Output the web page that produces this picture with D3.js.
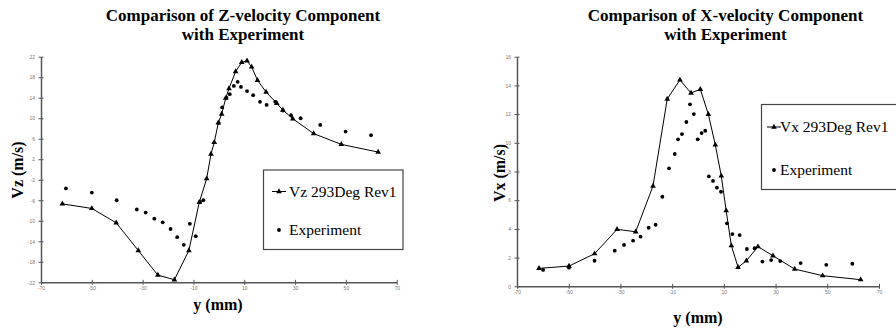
<!DOCTYPE html>
<html><head><meta charset="utf-8">
<script src="https://cdn.jsdelivr.net/npm/d3@7"></script>
<style>
html,body{margin:0;padding:0;background:#fff;}
svg{display:block;}
</style></head>
<body>
<svg id="c" width="896" height="329"></svg>
<script>
// ---- Data: Z-velocity chart ----
const vzSimY = [-61.6,-50,-40.4,-31.7,-24,-17.5,-11.8,-7.7,-4.8,-3.1,-1.8,-0.2,1.1,2.7,4.0,6.6,9.0,11.1,12.9,15.2,18.6,22.8,25.2,29.1,37.3,48.2,62.7];
const vzSimV = [-6.7,-7.6,-10.4,-15.8,-20.6,-21.5,-15.8,-6.4,-1.8,3.0,5.3,9.1,10.8,13.9,15.8,19.1,20.9,21.2,20.0,17.4,15.1,12.9,11.6,9.9,7.0,4.9,3.4];
const vzExpY = [-60.2,-50,-40.2,-32.3,-28.8,-25.4,-22.1,-19.0,-16.4,-13.8,-11.4,-9.1,-7.4,-6.1,-0.1,1.3,3.0,4.3,5.9,7.4,8.7,11.1,13.5,16.2,18.8,22.2,25.2,28.4,32.2,39.9,49.9,59.9];
const vzExpV = [-3.7,-4.5,-6.0,-7.8,-8.4,-9.6,-10.3,-11.6,-13.2,-14.7,-10.6,-13.0,-6.3,-6.0,9.1,12.1,14.0,14.7,16.3,17.1,16.1,15.3,14.5,13.2,12.6,13.2,11.5,10.6,10.0,8.7,7.4,6.7];
const vzYTicks = [-22,-18,-14,-10,-6,-2,2,6,10,14,18,22];

// ---- Data: X-velocity chart ----
const vxSimY = [-61.5,-49.9,-40,-31.3,-24.1,-17.4,-11.9,-7,-2.7,0.9,4,6.7,9,10.9,12.9,15.5,18.7,23.2,29,37.4,48.2,62.9];
const vxSimV = [1.25,1.41,2.27,3.97,3.8,6.99,13.05,14.38,13.47,13.73,11.99,9.85,7.69,5.27,2.83,1.32,1.78,2.76,2.13,1.2,0.74,0.46];
const vxExpY = [-59.9,-49.9,-40,-32.2,-28.6,-25.1,-22.2,-19.1,-16.4,-13.8,-11.2,-9.0,-7.7,-6.2,-4.5,-3.1,-1.6,-0.1,1.4,2.8,4.2,5.8,7.3,8.9,11.2,13.3,16.1,18.9,21.9,24.9,28.3,31.8,39.7,49.6,59.7];
const vxExpV = [1.14,1.3,1.78,2.48,2.88,3.18,3.46,4.08,4.29,6.24,8.22,9.22,10.24,10.61,11.45,12.68,12.0,10.24,10.68,10.84,7.66,7.34,6.87,6.59,4.39,3.64,3.57,2.6,2.65,1.72,1.83,1.76,1.62,1.5,1.57];
const vxYTicks = [0,2,4,6,8,10,12,14,16];

const xTicks = [-70,-50,-30,-10,10,30,50,70];

const SERIF = "Liberation Serif";
const SANS = "Liberation Sans";
const svg = d3.select("#c");

function drawChart(o){
  const g = svg.append("g");
  const x = d3.scaleLinear().domain([-70,70]).range(o.xr);
  const y = d3.scaleLinear().domain(o.yd).range(o.yr);
  const axisCol = "#555";
  const fmt = d => String(d);

  // titles
  g.append("text").attr("font-family",SERIF).attr("x", o.tx).attr("y", 21)
    .attr("text-anchor","middle").attr("font-weight","bold").attr("font-size",17).text(o.title1);
  g.append("text").attr("font-family",SERIF).attr("x", o.tx).attr("y", 40)
    .attr("text-anchor","middle").attr("font-weight","bold").attr("font-size",17).text("with Experiment");

  // axes
  const xa = d3.axisBottom(x).tickValues(xTicks).tickFormat(fmt).tickSize(0);
  const xg = g.append("g").attr("transform",`translate(0,${o.yr[0]})`).call(xa);
  const ya = d3.axisLeft(y).tickValues(o.yTicks).tickFormat(fmt).tickSize(0);
  const yg = g.append("g").attr("transform",`translate(${o.xr[0]},0)`).call(ya);
  [xg,yg].forEach(a=>{
    a.attr("font-family",SANS).attr("font-size",5);
    a.select(".domain").attr("stroke",axisCol).attr("stroke-width",1.5);
    a.selectAll("text").attr("fill","#777");
  });
  xg.selectAll(".tick text").attr("dy",0).attr("y",o.xLabOff);
  yg.selectAll(".tick text").attr("x",-6).attr("dy","0.35em");
  // crossing tick marks
  xg.selectAll(".tick").append("line").attr("y1",-2.5).attr("y2",2.5).attr("stroke",axisCol).attr("stroke-width",1);
  yg.selectAll(".tick").append("line").attr("x1",-2.5).attr("x2",2.5).attr("stroke",axisCol).attr("stroke-width",1);

  // axis titles
  g.append("text").attr("font-family",SERIF).attr("x", o.xtx).attr("y", o.xty)
    .attr("text-anchor","middle").attr("font-weight","bold").attr("font-size",16).text("y (mm)");
  g.append("text").attr("font-family",SERIF).attr("transform",`translate(${o.ytx},${o.yty}) rotate(-90)`)
    .attr("text-anchor","middle").attr("dy","0.35em").attr("font-weight","bold").attr("font-size",16).text(o.ylab);

  // simulation line
  const sim = o.simY.map((d,i)=>[d,o.simV[i]]);
  g.append("path").datum(sim)
    .attr("d", d3.line().x(d=>x(d[0])).y(d=>y(d[1])))
    .attr("fill","none").attr("stroke","#000").attr("stroke-width",1);
  const tri = d3.symbol().type(d3.symbolTriangle).size(14);
  g.selectAll(".tri").data(sim).join("path")
    .attr("transform",d=>`translate(${x(d[0])},${y(d[1])})`).attr("d",tri).attr("fill","#000");

  // experiment dots
  const exp = o.expY.map((d,i)=>[d,o.expV[i]]);
  g.selectAll(".dot").data(exp).join("circle")
    .attr("cx",d=>x(d[0])).attr("cy",d=>y(d[1])).attr("r",1.9).attr("fill","#000");

  // legend
  const L = o.leg;
  g.append("rect").attr("x",L.x).attr("y",L.y).attr("width",L.w).attr("height",L.h)
    .attr("fill","#fff").attr("stroke","#444").attr("stroke-width",1.2);
  g.append("line").attr("x1",L.mx-7).attr("x2",L.mx+7).attr("y1",L.y1).attr("y2",L.y1).attr("stroke","#000").attr("stroke-width",1);
  g.append("path").attr("transform",`translate(${L.mx},${L.y1})`).attr("d",tri).attr("fill","#000");
  g.append("circle").attr("cx",L.mx).attr("cy",L.y2).attr("r",1.9).attr("fill","#000");
  g.append("text").attr("font-family",SERIF).attr("x",L.tx).attr("y",L.y1).attr("dy","0.33em")
    .attr("font-size",15.5).text(o.legName);
  g.append("text").attr("font-family",SERIF).attr("x",L.tx).attr("y",L.y2).attr("dy","0.33em")
    .attr("font-size",15.5).text("Experiment");
}

drawChart({
  xr:[41,396.7], yd:[-22,22], yr:[282.3,56.7], yTicks:vzYTicks,
  title1:"Comparison of Z-velocity Component", tx:243,
  xtx:218, xty:310, ytx:17, yty:170, ylab:"Vz (m/s)", xLabOff:8,
  simY:vzSimY, simV:vzSimV, expY:vzExpY, expV:vzExpV,
  legName:"Vz 293Deg Rev1",
  leg:{x:263.5,y:170,w:139.5,h:79.5,mx:279,tx:289,y1:191.5,y2:230}
});
drawChart({
  xr:[517,879], yd:[0,16], yr:[286.3,56.7], yTicks:vxYTicks,
  title1:"Comparison of X-velocity Component", tx:725.5,
  xtx:698, xty:323, ytx:499, yty:173, ylab:"Vx (m/s)", xLabOff:8,
  simY:vxSimY, simV:vxSimV, expY:vxExpY, expV:vxExpV,
  legName:"Vx 293Deg Rev1",
  leg:{x:761.5,y:104.5,w:160,h:85,mx:774,tx:780,y1:127,y2:170}
});
</script>
</body></html>
